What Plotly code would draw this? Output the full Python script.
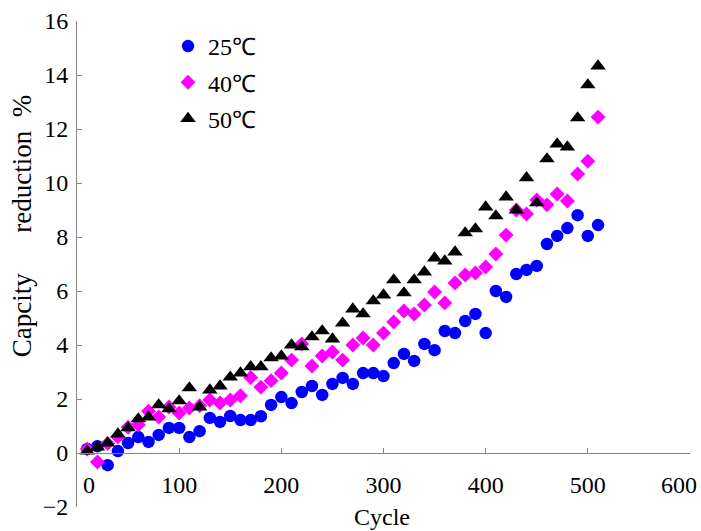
import plotly.graph_objects as go

cycles = list(range(10, 520, 10))

cap_25 = [0.15, 0.25, -0.45, 0.07, 0.37, 0.59, 0.41, 0.67, 0.93, 0.93,
          0.59, 0.81, 1.30, 1.15, 1.37, 1.22, 1.22, 1.36, 1.78, 2.07,
          1.85, 2.26, 2.48, 2.15, 2.56, 2.78, 2.56, 2.96, 2.96, 2.85,
          3.33, 3.67, 3.41, 4.04, 3.81, 4.52, 4.44, 4.89, 5.15, 4.44,
          6.00, 5.78, 6.63, 6.78, 6.93, 7.74, 8.04, 8.33, 8.81, 8.04,
          8.44]

cap_40 = [0.15, -0.33, 0.35, 0.60, 0.95, 1.05, 1.55, 1.33, 1.70, 1.48,
          1.67, 1.75, 1.96, 1.85, 1.96, 2.12, 2.80, 2.44, 2.68, 2.96,
          3.44, 4.04, 3.22, 3.59, 3.74, 3.44, 4.00, 4.26, 4.00, 4.44,
          4.85, 5.26, 5.15, 5.48, 5.96, 5.56, 6.30, 6.59, 6.67, 6.89,
          7.37, 8.07, 9.00, 8.85, 9.37, 9.19, 9.59, 9.33, 10.33, 10.81,
          12.44]

cap_50 = [0.07, 0.22, 0.37, 0.70, 0.93, 1.26, 1.33, 1.78, 1.63, 1.93,
          2.41, 1.70, 2.33, 2.48, 2.81, 2.96, 3.19, 3.19, 3.52, 3.59,
          4.00, 3.93, 4.30, 4.52, 4.22, 4.81, 5.33, 5.15, 5.63, 5.85,
          6.41, 5.93, 6.41, 6.70, 7.22, 7.11, 7.44, 8.15, 8.30, 9.11,
          8.78, 9.48, 9.00, 10.19, 9.26, 10.89, 11.44, 11.33, 12.41, 13.63,
          14.33]

series_names = ["25\u2103", "40\u2103", "50\u2103"]
x_tickvals = [0, 100, 200, 300, 400, 500, 600]
x_ticklabels = ["0", "100", "200", "300", "400", "500", "600"]
y_tickvals = [-2, 0, 2, 4, 6, 8, 10, 12, 14, 16]

# first label nudged right; last label drawn on an overlay axis, right-aligned
x_ticktext = ["\u00a0\u00a0\u00a0\u00a0" + x_ticklabels[0]] + x_ticklabels[1:-1] + [""]

FONT = "Liberation Serif"
AXIS_COLOR = "#868686"

fig = go.Figure()
fig.add_trace(go.Scatter(x=cycles, y=cap_25, mode="markers", name=series_names[0],
                         legendgroup="a",
                         marker=dict(symbol="circle", size=12.5, color="#0000FF")))
fig.add_trace(go.Scatter(x=cycles, y=cap_40, mode="markers", name=series_names[1],
                         legendgroup="b",
                         marker=dict(symbol="diamond", size=11.5, color="#FF00FF")))
fig.add_trace(go.Scatter(x=cycles, y=cap_50, mode="markers", name=series_names[2],
                         legendgroup="c",
                         marker=dict(symbol="triangle-up", size=13.5, color="#000000")))
# empty helper trace so the overlay axis carrying the last tick label is drawn
fig.add_trace(go.Scatter(x=[], y=[], xaxis="x2", yaxis="y", mode="markers",
                         showlegend=False, hoverinfo="skip"))

fig.update_layout(
    template="none",
    width=701, height=531,
    margin=dict(l=77, r=11, t=21, b=24, autoexpand=False),
    paper_bgcolor="white", plot_bgcolor="white",
    font=dict(family=FONT, size=24, color="black"),
    showlegend=True,
    legend=dict(x=0.1485, y=0.9938, xanchor="left", yanchor="top",
                bgcolor="rgba(0,0,0,0)", traceorder="grouped",
                tracegroupgap=2, font=dict(family=FONT, size=24, color="black")),
    xaxis=dict(range=[0, 600], tickvals=x_tickvals, ticktext=x_ticktext,
               showgrid=False, zeroline=False, showline=True,
               linecolor=AXIS_COLOR, linewidth=1,
               ticks="inside", ticklen=5, tickcolor=AXIS_COLOR,
               anchor="free", position=2 / 18, ticklabelstandoff=10,
               ticklabeloverflow="allow", automargin=False,
               tickfont=dict(family=FONT, size=24, color="black")),
    xaxis2=dict(range=[0, 600], overlaying="x", side="bottom",
                tickvals=x_tickvals[-1:], ticktext=x_ticklabels[-1:],
                showgrid=False, zeroline=False, showline=False, ticks="",
                anchor="free", position=2 / 18, ticklabelstandoff=15,
                ticklabelposition="outside left", ticklabelshift=7,
                ticklabeloverflow="allow", automargin=False,
                tickfont=dict(family=FONT, size=24, color="black")),
    yaxis=dict(range=[-2, 16], tickvals=y_tickvals,
               showgrid=False, zeroline=False, showline=True,
               linecolor=AXIS_COLOR, linewidth=1,
               ticks="inside", ticklen=5, tickcolor=AXIS_COLOR,
               ticklabelstandoff=3, automargin=False,
               tickfont=dict(family=FONT, size=24, color="black")),
    annotations=[
        dict(text="Cycle", x=0.498, y=-0.02, xref="paper", yref="paper",
             xanchor="center", yanchor="middle", showarrow=False,
             font=dict(family=FONT, size=24, color="black")),
        dict(text="Capcity" + "\u00a0" * 6 + "reduction" + "\u00a0" * 2 + "%",
             x=-0.0906, y=0.5785, xref="paper", yref="paper",
             xanchor="center", yanchor="middle", textangle=-90, showarrow=False,
             font=dict(family=FONT, size=27, color="black")),
    ],
)

fig.write_html(
    "out.html",
    config={"displayModeBar": False},
    post_script="document.body.style.margin='0';document.body.style.overflow='hidden';",
)
